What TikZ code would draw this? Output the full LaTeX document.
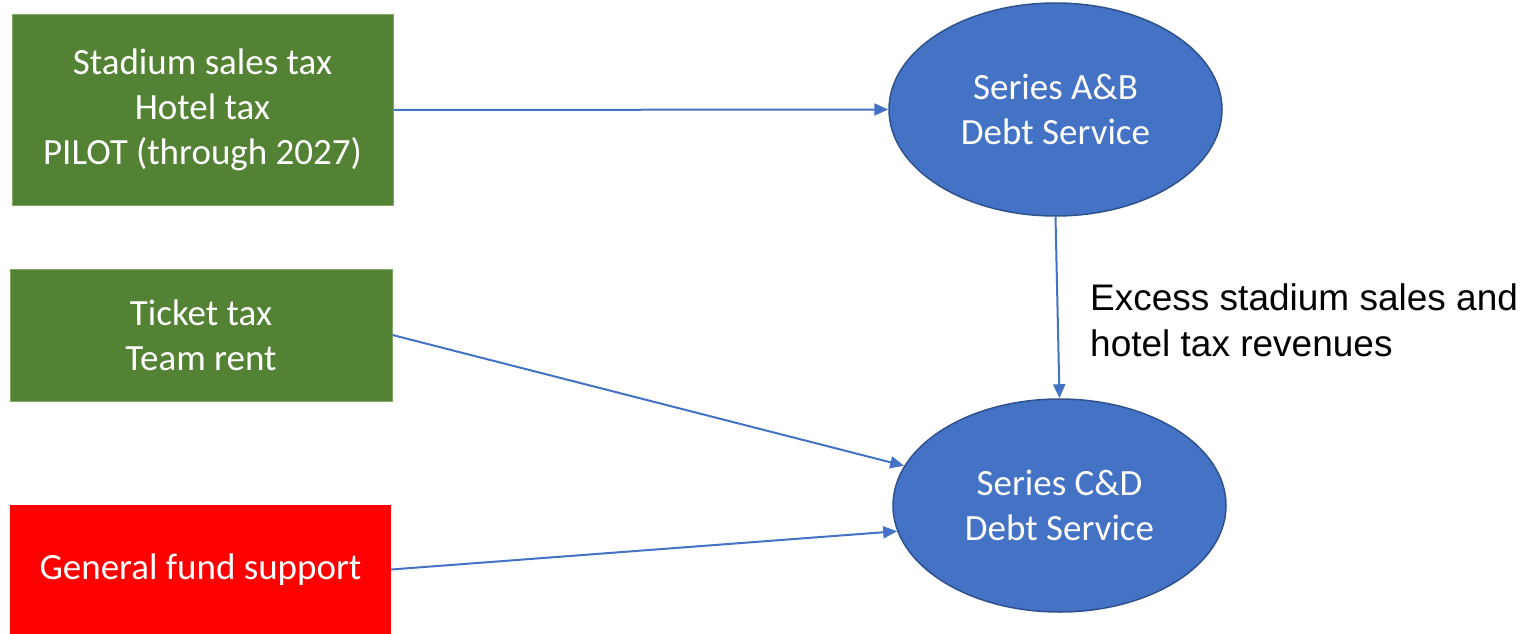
\documentclass[tikz,border=0pt]{standalone}
\usepackage{fontspec}
\setmainfont{Carlito}
\newfontfamily\arialfont{Liberation Sans}
\usetikzlibrary{arrows.meta}
\definecolor{boxgreen}{HTML}{548235}
\definecolor{boxgreenedge}{HTML}{7FA862}
\definecolor{boxred}{HTML}{FF0000}
\definecolor{ellfill}{HTML}{4472C4}
\definecolor{elledge}{HTML}{2F528F}
\definecolor{arrowblue}{HTML}{4472C4}
\tikzset{
  srcbox/.style={rectangle, inner sep=0pt, text=white, align=center,
    font=\fontsize{37}{45}\selectfont},
  greenbox/.style={srcbox, fill=boxgreen, draw=boxgreenedge, line width=1pt},
  redbox/.style={srcbox, fill=boxred},
  debt/.style={ellipse, inner sep=0pt, fill=ellfill, draw=elledge, line width=1.5pt,
    text=white, align=center, font=\fontsize{37}{45}\selectfont,
    minimum width=333pt, minimum height=213pt},
  flow/.style={draw=arrowblue, line width=2pt, -{Triangle[length=14pt,width=12pt]}},
  note/.style={align=left, anchor=west, inner sep=0pt, font=\arialfont\fontsize{37}{46}\selectfont}
}
\usetikzlibrary{shapes.geometric}
\begin{document}
\begin{tikzpicture}[x=1pt,y=-1pt]
\useasboundingbox (0,0) rectangle (1539,634);
\node[greenbox, minimum width=381pt, minimum height=190pt] (b1) at (202.5,110) {Stadium sales tax\\Hotel tax\\PILOT (through 2027)};
\node[greenbox, minimum width=382pt, minimum height=132pt] (b2) at (201,335) {Ticket tax\\Team rent};
\node[redbox, minimum width=381pt, minimum height=129pt] (r) at (200.5,569.5) {General fund support};
\node[debt] (e1) at (1055.5,109.5) {Series A\&B\\Debt Service};
\node[debt] (e2) at (1059.5,505.5) {Series C\&D\\Debt Service};
\node[note] (lbl) at (1090,320) {Excess stadium sales and\\hotel tax revenues};
\draw[flow] (b1.east) -- (e1.west);
\draw[flow] (e1.south) -- (e2.north);
\draw[flow] (b2.east) -- (e2);
\draw[flow] (r.east) -- (e2.189);
\end{tikzpicture}
\end{document}
